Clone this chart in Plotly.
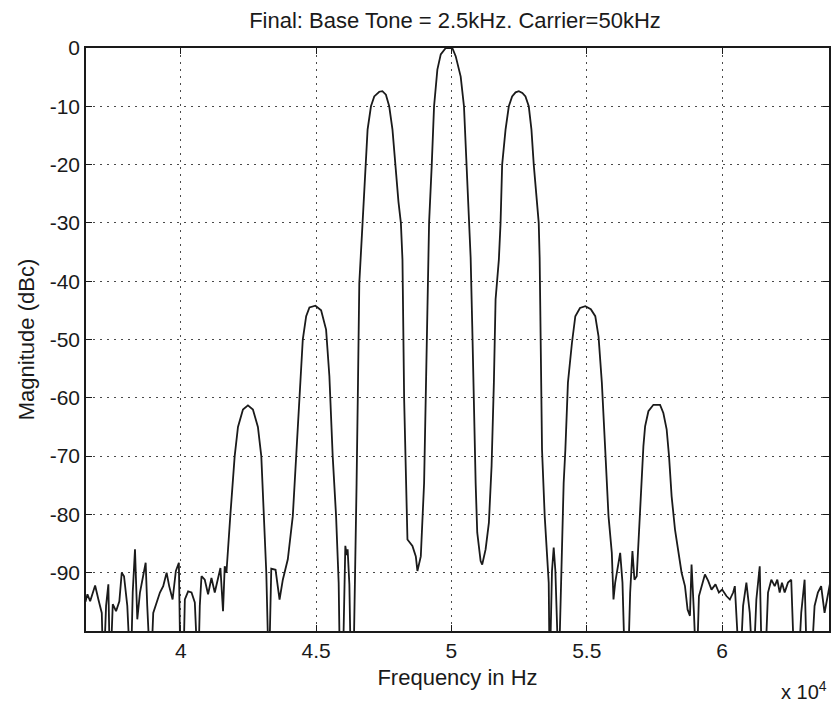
import plotly.graph_objects as go

# ---- data ----
freq_hz = [
    36480, 36553, 36653, 36837, 36958, 37083, 37142, 37242, 37326, 37389,
    37489, 37610, 37732, 37820, 37905, 38026, 38152, 38226, 38310, 38395,
    38494, 38594, 38704, 38763, 38889, 38984, 39109, 39231, 39352, 39478,
    39573, 39699, 39820, 39931, 39993, 40089, 40152, 40273, 40398, 40520,
    40641, 40704, 40767, 40888, 41010, 41135, 41257, 41378, 41466, 41562,
    41625, 41688,
    41754, 41835, 41993, 42115, 42299, 42483, 42667, 42851, 42976, 43072,
    43161, 43256,
    43345, 43503, 43651, 43772, 43956, 44140, 44266, 44387, 44509, 44634,
    44755, 44976, 45186, 45370, 45492, 45614, 45739, 45835, 45886, 45982,
    46081, 46130, 46166, 46230, 46290, 46376, 46450, 46497, 46549, 46597,
    46718, 46818, 46903, 47028, 47149, 47334, 47450, 47580, 47702, 47823,
    47923, 48044, 48133, 48192, 48254, 48317, 48376, 48560, 48685, 48744,
    48869, 48991, 49053, 49112, 49175, 49274, 49359, 49481, 49606, 49790,
    49910, 50033, 50158, 50343, 50464, 50563, 50648, 50711, 50770, 50832,
    50895, 50954, 51079, 51138, 51263, 51385, 51484, 51569, 51632, 51753,
    51816, 51875, 52000, 52121, 52243, 52370, 52490, 52620, 52736, 52858,
    52957, 53042, 53164, 53226, 53260, 53300, 53348, 53447, 53532, 53595,
    53631, 53716, 53779, 53841, 53963, 54062, 54147, 54210, 54305, 54453,
    54578, 54750, 54946, 55150, 55315, 55436, 55558, 55683, 55804, 55926,
    55988, 56051, 56235, 56320, 56419, 56515, 56604, 56688, 56762, 56847,
    56909, 57009, 57093, 57156, 57278, 57462, 57709, 57830, 57952, 58040,
    58136, 58261, 58382, 58504, 58629, 58725, 58813, 58872, 58961, 59056,
    59145, 59241, 59366, 59487, 59609, 59756, 59882, 60003, 60161, 60287,
    60408, 60471, 60530, 60655, 60776, 60898, 61023, 61145, 61266, 61391,
    61476, 61576, 61697, 61819, 61944, 62040, 62128, 62213, 62312, 62434,
    62555, 62681, 62802, 62924, 63049, 63145, 63270, 63417, 63539, 63660,
    63786, 63907, 63980,
]

mag_dbc = [
    -95.0, -93.7, -94.9, -92.2, -94.6, -96.9, -108, -95.7, -92.0, -108,
    -95.4, -96.6, -94.9, -90.0, -90.6, -95.7, -108, -93.4, -86.0, -98.0,
    -93.4, -90.6, -88.3, -95.7, -108, -96.9, -94.9, -93.4, -92.3, -90.0,
    -92.3, -94.6, -89.7, -88.3, -108, -108, -94.6, -93.2, -93.4, -95.1,
    -108, -95.7, -90.6, -91.2, -93.7, -90.9, -93.4, -91.2, -89.2, -96.6,
    -88.9, -90.0,
    -85.0, -80.0, -70.0, -65.0, -62.0, -61.3, -62.0, -65.0, -70.0, -80.0,
    -90.0, -108,
    -89.3, -89.5, -94.6, -91.2, -87.7, -80.3, -70.0, -60.0, -50.0, -46.0,
    -44.5, -44.2, -45.0, -48.3, -56.3, -70.0, -80.3, -91.7, -108, -108,
    -85.4, -87.0, -86.0, -92.0, -108, -108, -89.4, -74.6, -57.4, -40.3,
    -30.0, -20.0, -14.0, -10.0, -8.3, -7.5, -7.4, -8.0, -10.0, -14.0,
    -20.0, -26.4, -30.0, -36.3, -60.3, -74.6, -84.3, -85.4, -87.2, -89.7,
    -87.2, -74.6, -57.4, -40.3, -30.0, -20.0, -10.0, -3.7, -1.1, 0.0,
    0.0, 0.0, -1.4, -4.9, -10.0, -20.0, -30.0, -36.0, -47.7, -63.2,
    -74.6, -83.1, -88.0, -88.6, -86.0, -81.4, -71.7, -57.4, -43.1, -36.3,
    -30.0, -20.0, -14.0, -10.0, -8.3, -7.6, -7.4, -7.7, -8.3, -10.0,
    -14.0, -20.0, -26.4, -30.0, -36.0, -52.0, -68.9, -80.3, -86.0, -91.7,
    -108, -89.7, -85.7, -89.7, -108, -89.7, -74.6, -68.9, -57.4, -50.6,
    -46.0, -44.6, -44.3, -44.8, -46.0, -49.5, -57.4, -68.9, -80.3, -86.6,
    -94.6, -91.7, -86.6, -91.7, -108, -108, -93.4, -86.3, -91.2, -90.6,
    -84.3, -74.0, -68.3, -64.9, -62.3, -61.2, -61.2, -62.6, -65.4, -70.0,
    -76.9, -82.6, -86.6, -90.0, -92.3, -96.3, -97.4, -88.6, -96.9, -108,
    -94.0, -92.3, -90.3, -91.4, -92.9, -92.0, -93.4, -92.9, -94.0, -94.6,
    -93.4, -92.3, -96.9, -108, -95.7, -91.7, -96.9, -108, -94.6, -88.9,
    -108, -108, -93.4, -91.2, -92.3, -91.2, -93.4, -91.7, -93.4, -91.7,
    -91.2, -108, -108, -96.9, -91.2, -108, -108, -95.7, -93.4, -92.3,
    -96.9, -93.4, -92.0,
]

x_tick_vals = [40000, 45000, 50000, 55000, 60000]
x_tick_text = ["4", "4.5", "5", "5.5", "6"]
y_tick_vals = [0, -10, -20, -30, -40, -50, -60, -70, -80, -90]
y_tick_text = ["0", "-10", "-20", "-30", "-40", "-50", "-60", "-70", "-80", "-90"]

title_text = "Final: Base Tone = 2.5kHz. Carrier=50kHz"
x_label = "Frequency in Hz"
y_label = "Magnitude (dBc)"
x_exponent = "x 10<sup>4</sup>"

FONT = "Liberation Sans, Arial, Helvetica, sans-serif"
INK = "#1a1a1a"

fig = go.Figure(
    go.Scatter(
        x=freq_hz, y=mag_dbc, mode="lines",
        line=dict(color=INK, width=1.8),
        hoverinfo="x+y",
    )
)

axis_common = dict(
    showline=True, linecolor=INK, linewidth=1.5, mirror="ticks",
    ticks="inside", ticklen=6, tickwidth=1.3, tickcolor=INK,
    showgrid=True, gridcolor="#4a4a4a", gridwidth=1, griddash="2px,5px",
    zeroline=False,
    tickfont=dict(family=FONT, size=21, color=INK),
)

fig.update_layout(
    width=834, height=705,
    margin=dict(l=86, r=3, t=48, b=74),
    paper_bgcolor="white", plot_bgcolor="white",
    showlegend=False,
    font=dict(family=FONT, size=21, color=INK),
    title=dict(
        text=title_text, xref="container", yref="container",
        x=455 / 834, y=1 - 20 / 705, xanchor="center", yanchor="middle",
        font=dict(family=FONT, size=22, color=INK),
    ),
    xaxis=dict(
        range=[36500, 63950], tickvals=x_tick_vals, ticktext=x_tick_text,
        ticklabelstandoff=0,
        title=dict(text=x_label, standoff=9, font=dict(family=FONT, size=22, color=INK)),
        **axis_common,
    ),
    yaxis=dict(
        range=[-100, 0], tickvals=y_tick_vals, ticktext=y_tick_text,
        ticklabelstandoff=0,
        title=dict(text=y_label, standoff=9, font=dict(family=FONT, size=22, color=INK)),
        **axis_common,
    ),
    annotations=[
        dict(
            text=x_exponent, xref="paper", yref="paper",
            x=1.0, y=(631 - 690) / 583, xanchor="right", yanchor="middle",
            showarrow=False, font=dict(family=FONT, size=20, color=INK),
        )
    ],
)

fig.write_html("out.html")
